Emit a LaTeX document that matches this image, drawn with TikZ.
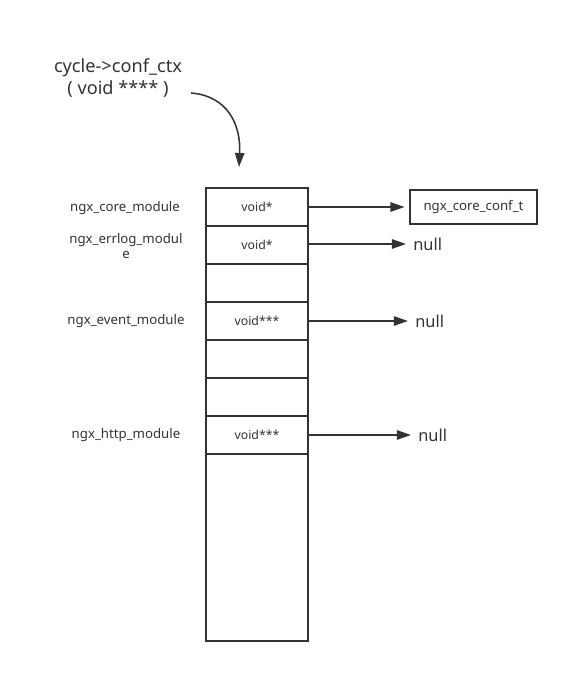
\documentclass[tikz,border=0pt]{standalone}
\usepackage{fontspec}
\setmainfont{Noto Sans}
\usetikzlibrary{arrows,arrows.meta}
\usetikzlibrary{calc,positioning}

\begin{document}
\begin{tikzpicture}[x=0.03cm,y=-0.03cm]
	\definecolor{ink}{HTML}{333333}
	\tikzstyle{cell}=[draw=ink, line width=1.3pt, rectangle, minimum width=3.06cm,
	minimum height=1.14cm, inner sep=0pt, outer sep=0pt, font=\fontsize{10.5}{12}\selectfont, text=ink]
	\tikzstyle{module}=[font=\fontsize{11.3}{13}\selectfont, text=ink, align=center]
	\tikzstyle{nullnode}=[font=\fontsize{14}{16}\selectfont, text=ink, inner xsep=6pt, inner ysep=1pt, anchor=west]
	\tikzstyle{ptr}=[draw=ink, line width=1.3pt, -{Triangle[length=12pt,width=8pt]}]
	\useasboundingbox (0,0) rectangle (569,673);
	% the array of module contexts
	\node[cell] (cell0) at (257,207) {void*};
	\node[cell, below=0pt of cell0] (cell1) {void*};
	\node[cell, below=0pt of cell1] (cell2) {};
	\node[cell, below=0pt of cell2] (cell3) {void***};
	\node[cell, below=0pt of cell3] (cell4) {};
	\node[cell, below=0pt of cell4] (cell5) {};
	\node[cell, below=0pt of cell5] (cell6) {void***};
	\node[cell, below=0pt of cell6, minimum height=5.61cm] (cell7) {};
	% module names
	\node[module] (core) at (125,208) {ngx\_core\_module};
	\node[module] (errlog) at (126,246) {ngx\_errlog\_modul\\e};
	\node[module] (event) at (126,321) {ngx\_event\_module};
	\node[module] (http) at (126,435) {ngx\_http\_module};
	% title and pointer
	\node[font=\fontsize{15.5}{18}\selectfont, text=ink, align=center] (ctx) at (118,78)
	{cycle->conf\_ctx\\( void **** )};
	\coordinate (ctxfrom) at (191,93);
	\draw[ptr] (ctxfrom) .. controls (228,96) and (241,125) .. ($(cell0.north)+(-18,-21)$);
	% targets
	\node[draw=ink, line width=1.3pt, minimum width=3.81cm, minimum height=1.02cm,
	font=\fontsize{11.3}{13}\selectfont, text=ink] (conf) at (473.5,207) {ngx\_core\_conf\_t};
	\node[nullnode] (null1) at (406,244) {null};
	\node[nullnode] (null3) at (408,321) {null};
	\node[nullnode] (null6) at (411,435) {null};
	\draw[ptr, shorten >=4pt] (cell0.east) -- (conf.west);
	\draw[ptr] (cell1.east |- null1.west) -- (null1.west);
	\draw[ptr] (cell3.east |- null3.west) -- (null3.west);
	\draw[ptr] (cell6.east |- null6.west) -- (null6.west);
\end{tikzpicture}
\end{document}
